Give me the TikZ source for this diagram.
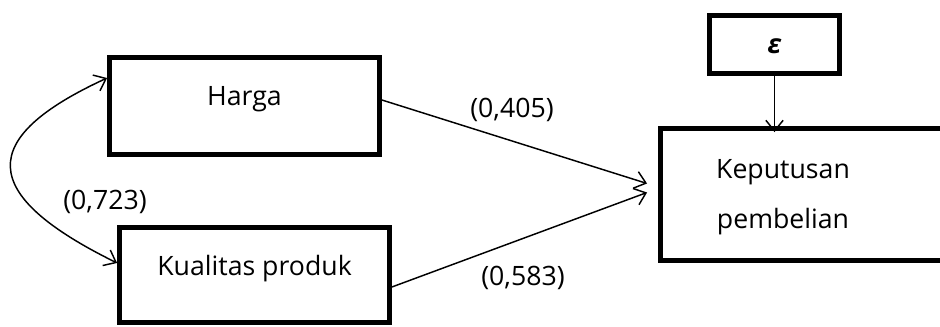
\documentclass[tikz,border=0pt]{standalone}
\usepackage{fontspec}
\setmainfont{Open Sans}
\usetikzlibrary{arrows.meta,calc}
\tikzset{
  box/.style={draw, line width=3.6pt, rectangle, inner sep=0pt},
  openbox/.style={rectangle, inner sep=0pt, outer sep=1.8pt},
  boxline/.style={line width=3.6pt, line join=miter},
  conn/.style={line width=1.1pt, -{Straight Barb[length=8pt,width=13pt,line width=1.1pt]}},
  lbl/.style={font=\fontsize{20}{24}\selectfont, inner sep=0pt}
}
\begin{document}
\begin{tikzpicture}[x=0.75pt,y=-0.75pt]
\useasboundingbox (0,0) rectangle (940,327);
\node[box, minimum width=202.5pt, minimum height=72.75pt] (h) at (244.5,106) {};
\node[lbl] (ht) at (244.5,99) {Harga};
\node[box, minimum width=202.5pt, minimum height=71.25pt] (k) at (254.5,275) {};
\node[lbl] (kt) at (254.5,269) {Kualitas produk};
\node[openbox, minimum width=212pt, minimum height=99pt] (kp) at (801.8,194.5) {};
\draw[boxline] ([xshift=-1.8pt,yshift=-1.8pt]kp.north east) -- ([xshift=1.8pt,yshift=-1.8pt]kp.north west) -- ([xshift=1.8pt,yshift=1.8pt]kp.south west) -- ([xshift=-1.8pt,yshift=1.8pt]kp.south east);
\node[lbl, align=center, font=\fontsize{20}{37.5}\selectfont] (kpt) at (783,197) {Keputusan\\pembelian};
\node[box, minimum width=97.5pt, minimum height=43.5pt] (e) at (774.5,44.5) {};
\node[lbl] (et) at (774.5,46) {\textbf{\textit{ε}}};
\node[lbl] (l1) at (512,110) {(0,405)};
\node[lbl] (l2) at (523,278) {(0,583)};
\node[lbl] (l3) at (105,202) {(0,723)};
\coordinate (t1) at ($(kp.west)+(-11,-11)$);
\coordinate (t2) at ($(kp.west)+(-11,-2)$);
\coordinate (s1) at ($(h.east)+(0,-6)$);
\coordinate (s2) at ($(k.east)+(0,12)$);
\coordinate (c1) at ($(h.west)+(0,-28)$);
\coordinate (c2) at ($(k.west)+(0,-12)$);
\draw[conn] (s1) -- (t1);
\draw[conn] (s2) -- (t2);
\draw[conn] (e.south) -- ($(e.south |- kp.north)+(0,6)$);
\draw[line width=1.1pt, {Straight Barb[length=8pt,width=13pt,line width=1.1pt]}-{Straight Barb[length=8pt,width=13pt,line width=1.1pt]}]
  (c1) .. controls (-23,138) and (-23,194) .. (c2);
\end{tikzpicture}
\end{document}
